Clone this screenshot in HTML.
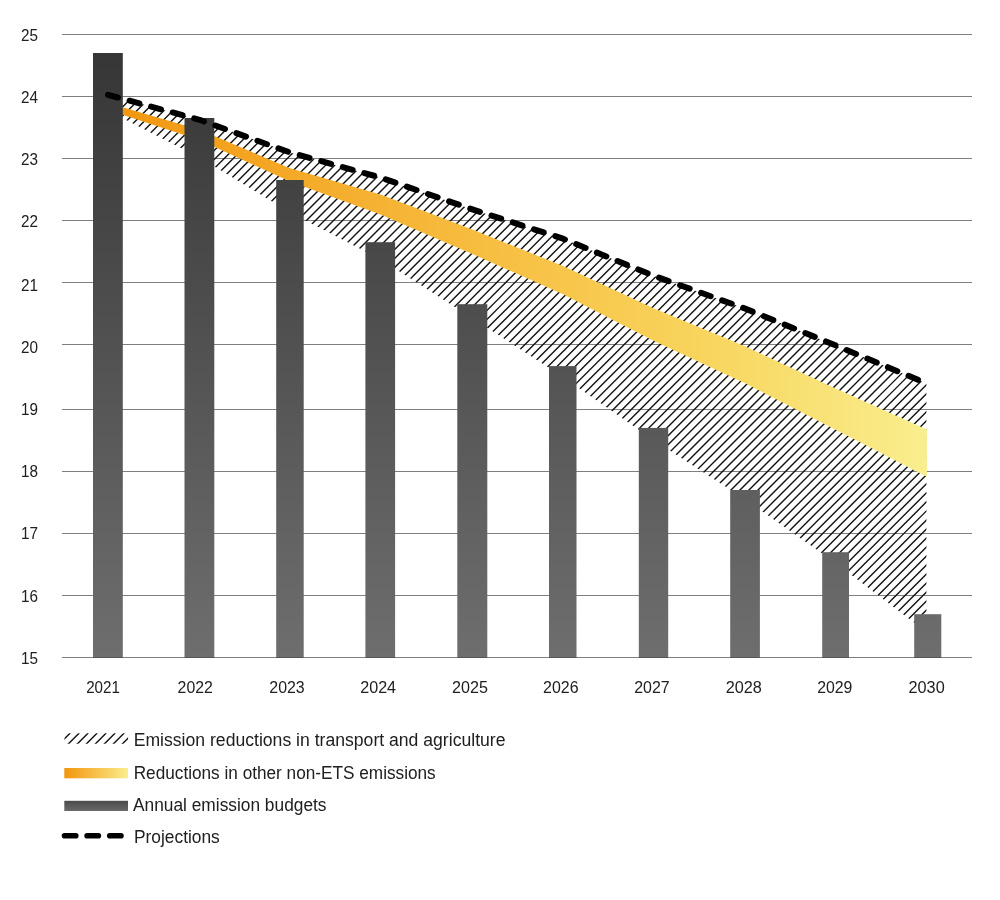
<!DOCTYPE html><html><head><meta charset="utf-8"><style>html,body{margin:0;padding:0;background:#fff;}svg{display:block;}</style></head><body>
<svg width="1000" height="900" viewBox="0 0 1000 900">
<defs>
<linearGradient id="gBar" gradientUnits="userSpaceOnUse" x1="0" y1="53" x2="0" y2="657"><stop offset="0" stop-color="#363636"/><stop offset="1" stop-color="#6e6e6e"/></linearGradient>
<linearGradient id="gBand" gradientUnits="userSpaceOnUse" x1="108" y1="0" x2="926.4" y2="0"><stop offset="0" stop-color="#f2960f"/><stop offset="0.5" stop-color="#f7c145"/><stop offset="0.72" stop-color="#f8d45c"/><stop offset="1" stop-color="#f9ee8e"/></linearGradient>
<linearGradient id="gLegBand" x1="0" y1="0" x2="1" y2="0"><stop offset="0" stop-color="#f2960f"/><stop offset="0.5" stop-color="#f7c04a"/><stop offset="1" stop-color="#f9ee8e"/></linearGradient>
<linearGradient id="gLegBar" x1="0" y1="0" x2="0" y2="1"><stop offset="0" stop-color="#4a4a4a"/><stop offset="1" stop-color="#6a6a6a"/></linearGradient>
<clipPath id="cHatch"><polygon points="108.00,94.80 199.50,119.80 290.00,152.50 380.50,177.50 472.40,209.40 563.00,238.70 653.50,275.70 745.00,308.50 835.70,345.40 926.40,383.30 926.40,632.00 835.70,563.00 745.00,499.30 653.50,440.00 563.00,377.00 472.40,318.20 380.50,259.30 290.00,212.40 199.50,157.60 108.00,110.70"/></clipPath>
<clipPath id="cLeg"><rect x="64.5" y="733.3" width="63.6" height="10.5"/></clipPath>
</defs>
<rect x="62" y="34" width="910" height="1" fill="#7f7f7f"/>
<rect x="62" y="96" width="910" height="1" fill="#7f7f7f"/>
<rect x="62" y="158" width="910" height="1" fill="#7f7f7f"/>
<rect x="62" y="220" width="910" height="1" fill="#7f7f7f"/>
<rect x="62" y="282" width="910" height="1" fill="#7f7f7f"/>
<rect x="62" y="344" width="910" height="1" fill="#7f7f7f"/>
<rect x="62" y="409" width="910" height="1" fill="#7f7f7f"/>
<rect x="62" y="471" width="910" height="1" fill="#7f7f7f"/>
<rect x="62" y="533" width="910" height="1" fill="#7f7f7f"/>
<rect x="62" y="595" width="910" height="1" fill="#7f7f7f"/>
<rect x="62" y="657" width="910" height="1" fill="#7f7f7f"/>
<g clip-path="url(#cHatch)" stroke="#111" stroke-width="1.4">
<line x1="100" y1="84.4006" x2="935" y2="-750.5994000000001"/>
<line x1="100" y1="93.41480000000001" x2="935" y2="-741.5852"/>
<line x1="100" y1="102.429" x2="935" y2="-732.571"/>
<line x1="100" y1="111.44319999999999" x2="935" y2="-723.5568000000001"/>
<line x1="100" y1="120.4574" x2="935" y2="-714.5426"/>
<line x1="100" y1="129.4716" x2="935" y2="-705.5284"/>
<line x1="100" y1="138.4858" x2="935" y2="-696.5142"/>
<line x1="100" y1="147.5" x2="935" y2="-687.5"/>
<line x1="100" y1="156.51420000000002" x2="935" y2="-678.4857999999999"/>
<line x1="100" y1="165.52839999999998" x2="935" y2="-669.4716000000001"/>
<line x1="100" y1="174.5426" x2="935" y2="-660.4574"/>
<line x1="100" y1="183.5568" x2="935" y2="-651.4431999999999"/>
<line x1="100" y1="192.57100000000003" x2="935" y2="-642.429"/>
<line x1="100" y1="201.5852" x2="935" y2="-633.4148"/>
<line x1="100" y1="210.5994" x2="935" y2="-624.4005999999999"/>
<line x1="100" y1="219.61360000000002" x2="935" y2="-615.3864"/>
<line x1="100" y1="228.62779999999998" x2="935" y2="-606.3722"/>
<line x1="100" y1="237.642" x2="935" y2="-597.358"/>
<line x1="100" y1="246.6562" x2="935" y2="-588.3438"/>
<line x1="100" y1="255.67039999999997" x2="935" y2="-579.3296"/>
<line x1="100" y1="264.6846" x2="935" y2="-570.3154"/>
<line x1="100" y1="273.6988" x2="935" y2="-561.3012"/>
<line x1="100" y1="282.713" x2="935" y2="-552.287"/>
<line x1="100" y1="291.72720000000004" x2="935" y2="-543.2728"/>
<line x1="100" y1="300.7414" x2="935" y2="-534.2586"/>
<line x1="100" y1="309.7556" x2="935" y2="-525.2444"/>
<line x1="100" y1="318.76980000000003" x2="935" y2="-516.2302"/>
<line x1="100" y1="327.784" x2="935" y2="-507.216"/>
<line x1="100" y1="336.7982" x2="935" y2="-498.2018"/>
<line x1="100" y1="345.8124" x2="935" y2="-489.1876"/>
<line x1="100" y1="354.8266" x2="935" y2="-480.1734"/>
<line x1="100" y1="363.8408" x2="935" y2="-471.1592"/>
<line x1="100" y1="372.855" x2="935" y2="-462.145"/>
<line x1="100" y1="381.8692" x2="935" y2="-453.1308"/>
<line x1="100" y1="390.88340000000005" x2="935" y2="-444.11659999999995"/>
<line x1="100" y1="399.8976" x2="935" y2="-435.1024"/>
<line x1="100" y1="408.9118" x2="935" y2="-426.0882"/>
<line x1="100" y1="417.92600000000004" x2="935" y2="-417.07399999999996"/>
<line x1="100" y1="426.9402" x2="935" y2="-408.0598"/>
<line x1="100" y1="435.9544000000001" x2="935" y2="-399.0455999999999"/>
<line x1="100" y1="444.96860000000004" x2="935" y2="-390.03139999999996"/>
<line x1="100" y1="453.9828" x2="935" y2="-381.0172"/>
<line x1="100" y1="462.99700000000007" x2="935" y2="-372.00299999999993"/>
<line x1="100" y1="472.01120000000003" x2="935" y2="-362.98879999999997"/>
<line x1="100" y1="481.0254" x2="935" y2="-353.9746"/>
<line x1="100" y1="490.03960000000006" x2="935" y2="-344.96039999999994"/>
<line x1="100" y1="499.0538" x2="935" y2="-335.9462"/>
<line x1="100" y1="508.068" x2="935" y2="-326.932"/>
<line x1="100" y1="517.0822000000001" x2="935" y2="-317.91779999999994"/>
<line x1="100" y1="526.0964" x2="935" y2="-308.9036"/>
<line x1="100" y1="535.1106" x2="935" y2="-299.8894"/>
<line x1="100" y1="544.1248" x2="935" y2="-290.87519999999995"/>
<line x1="100" y1="553.139" x2="935" y2="-281.861"/>
<line x1="100" y1="562.1532" x2="935" y2="-272.84680000000003"/>
<line x1="100" y1="571.1674" x2="935" y2="-263.83259999999996"/>
<line x1="100" y1="580.1816" x2="935" y2="-254.8184"/>
<line x1="100" y1="589.1958" x2="935" y2="-245.80420000000004"/>
<line x1="100" y1="598.21" x2="935" y2="-236.78999999999996"/>
<line x1="100" y1="607.2242000000001" x2="935" y2="-227.7757999999999"/>
<line x1="100" y1="616.2384" x2="935" y2="-218.76160000000004"/>
<line x1="100" y1="625.2526" x2="935" y2="-209.74739999999997"/>
<line x1="100" y1="634.2668000000001" x2="935" y2="-200.7331999999999"/>
<line x1="100" y1="643.2810000000001" x2="935" y2="-191.71899999999994"/>
<line x1="100" y1="652.2952" x2="935" y2="-182.70479999999998"/>
<line x1="100" y1="661.3094" x2="935" y2="-173.69060000000002"/>
<line x1="100" y1="670.3236" x2="935" y2="-164.67639999999994"/>
<line x1="100" y1="679.3378" x2="935" y2="-155.66219999999998"/>
<line x1="100" y1="688.3520000000001" x2="935" y2="-146.6479999999999"/>
<line x1="100" y1="697.3662" x2="935" y2="-137.63379999999995"/>
<line x1="100" y1="706.3804" x2="935" y2="-128.6196"/>
<line x1="100" y1="715.3946000000001" x2="935" y2="-119.60539999999992"/>
<line x1="100" y1="724.4088" x2="935" y2="-110.59119999999996"/>
<line x1="100" y1="733.423" x2="935" y2="-101.577"/>
<line x1="100" y1="742.4372000000001" x2="935" y2="-92.56279999999992"/>
<line x1="100" y1="751.4514" x2="935" y2="-83.54859999999996"/>
<line x1="100" y1="760.4656" x2="935" y2="-74.5344"/>
<line x1="100" y1="769.4798000000001" x2="935" y2="-65.52019999999993"/>
<line x1="100" y1="778.494" x2="935" y2="-56.50599999999997"/>
<line x1="100" y1="787.5082000000001" x2="935" y2="-47.4917999999999"/>
<line x1="100" y1="796.5224000000001" x2="935" y2="-38.47759999999994"/>
<line x1="100" y1="805.5366" x2="935" y2="-29.46339999999998"/>
<line x1="100" y1="814.5508000000001" x2="935" y2="-20.449199999999905"/>
<line x1="100" y1="823.565" x2="935" y2="-11.434999999999945"/>
<line x1="100" y1="832.5792" x2="935" y2="-2.4207999999999856"/>
<line x1="100" y1="841.5934000000001" x2="935" y2="6.593400000000088"/>
<line x1="100" y1="850.6076" x2="935" y2="15.607600000000048"/>
<line x1="100" y1="859.6218" x2="935" y2="24.621800000000007"/>
<line x1="100" y1="868.6360000000001" x2="935" y2="33.63600000000008"/>
<line x1="100" y1="877.6502" x2="935" y2="42.65020000000004"/>
<line x1="100" y1="886.6644" x2="935" y2="51.6644"/>
<line x1="100" y1="895.6786000000001" x2="935" y2="60.678600000000074"/>
<line x1="100" y1="904.6928" x2="935" y2="69.69280000000003"/>
<line x1="100" y1="913.7070000000001" x2="935" y2="78.70700000000011"/>
<line x1="100" y1="922.7212000000001" x2="935" y2="87.72120000000007"/>
<line x1="100" y1="931.7354" x2="935" y2="96.73540000000003"/>
<line x1="100" y1="940.7496000000001" x2="935" y2="105.7496000000001"/>
<line x1="100" y1="949.7638000000002" x2="935" y2="114.76380000000017"/>
<line x1="100" y1="958.778" x2="935" y2="123.77800000000002"/>
<line x1="100" y1="967.7922000000001" x2="935" y2="132.7922000000001"/>
<line x1="100" y1="976.8063999999999" x2="935" y2="141.80639999999994"/>
<line x1="100" y1="985.8206" x2="935" y2="150.8206"/>
<line x1="100" y1="994.8348000000001" x2="935" y2="159.8348000000001"/>
<line x1="100" y1="1003.8490000000002" x2="935" y2="168.84900000000016"/>
<line x1="100" y1="1012.8632" x2="935" y2="177.8632"/>
<line x1="100" y1="1021.8774000000001" x2="935" y2="186.87740000000008"/>
<line x1="100" y1="1030.8916" x2="935" y2="195.89159999999993"/>
<line x1="100" y1="1039.9058" x2="935" y2="204.9058"/>
<line x1="100" y1="1048.92" x2="935" y2="213.92000000000007"/>
<line x1="100" y1="1057.9342000000001" x2="935" y2="222.93420000000015"/>
<line x1="100" y1="1066.9484000000002" x2="935" y2="231.94840000000022"/>
<line x1="100" y1="1075.9626" x2="935" y2="240.96260000000007"/>
<line x1="100" y1="1084.9768" x2="935" y2="249.9767999999999"/>
<line x1="100" y1="1093.991" x2="935" y2="258.991"/>
<line x1="100" y1="1103.0052" x2="935" y2="268.00520000000006"/>
<line x1="100" y1="1112.0194000000001" x2="935" y2="277.01940000000013"/>
<line x1="100" y1="1121.0336000000002" x2="935" y2="286.0336000000002"/>
<line x1="100" y1="1130.0478" x2="935" y2="295.04780000000005"/>
<line x1="100" y1="1139.0620000000001" x2="935" y2="304.0620000000001"/>
<line x1="100" y1="1148.0762" x2="935" y2="313.0762"/>
<line x1="100" y1="1157.0904" x2="935" y2="322.09040000000005"/>
<line x1="100" y1="1166.1046000000001" x2="935" y2="331.1046000000001"/>
<line x1="100" y1="1175.1188" x2="935" y2="340.11879999999996"/>
<line x1="100" y1="1184.133" x2="935" y2="349.13300000000004"/>
<line x1="100" y1="1193.1472" x2="935" y2="358.1472000000001"/>
<line x1="100" y1="1202.1614000000002" x2="935" y2="367.1614000000002"/>
<line x1="100" y1="1211.1756" x2="935" y2="376.17560000000003"/>
<line x1="100" y1="1220.1898" x2="935" y2="385.1898000000001"/>
<line x1="100" y1="1229.2040000000002" x2="935" y2="394.2040000000002"/>
<line x1="100" y1="1238.2182" x2="935" y2="403.2182"/>
<line x1="100" y1="1247.2324" x2="935" y2="412.2324000000001"/>
<line x1="100" y1="1256.2466000000002" x2="935" y2="421.24660000000017"/>
<line x1="100" y1="1265.2608" x2="935" y2="430.2608"/>
<line x1="100" y1="1274.275" x2="935" y2="439.2750000000001"/>
<line x1="100" y1="1283.2892000000002" x2="935" y2="448.28920000000016"/>
<line x1="100" y1="1292.3034" x2="935" y2="457.3034"/>
<line x1="100" y1="1301.3176" x2="935" y2="466.3176000000001"/>
<line x1="100" y1="1310.3318000000002" x2="935" y2="475.33180000000016"/>
<line x1="100" y1="1319.346" x2="935" y2="484.346"/>
<line x1="100" y1="1328.3602" x2="935" y2="493.3602000000001"/>
<line x1="100" y1="1337.3744000000002" x2="935" y2="502.37440000000015"/>
<line x1="100" y1="1346.3886" x2="935" y2="511.3886"/>
<line x1="100" y1="1355.4028" x2="935" y2="520.4028000000001"/>
<line x1="100" y1="1364.4170000000001" x2="935" y2="529.4170000000001"/>
<line x1="100" y1="1373.4312" x2="935" y2="538.4312"/>
<line x1="100" y1="1382.4454" x2="935" y2="547.4454000000001"/>
<line x1="100" y1="1391.4596000000001" x2="935" y2="556.4596000000001"/>
<line x1="100" y1="1400.4738" x2="935" y2="565.4738"/>
<line x1="100" y1="1409.488" x2="935" y2="574.488"/>
<line x1="100" y1="1418.5022000000001" x2="935" y2="583.5022000000001"/>
<line x1="100" y1="1427.5164000000002" x2="935" y2="592.5164000000002"/>
<line x1="100" y1="1436.5306" x2="935" y2="601.5306"/>
<line x1="100" y1="1445.5448000000001" x2="935" y2="610.5448000000001"/>
<line x1="100" y1="1454.5590000000002" x2="935" y2="619.5590000000002"/>
<line x1="100" y1="1463.5732" x2="935" y2="628.5732"/>
<line x1="100" y1="1472.5874000000001" x2="935" y2="637.5874000000001"/>
</g>
<polygon points="108.00,103.00 199.50,129.80 290.00,168.20 380.50,194.50 472.40,229.50 563.00,266.00 653.50,308.20 745.00,346.30 835.70,388.50 926.90,429.40 926.90,476.70 835.70,429.80 745.00,383.30 653.50,340.70 563.00,294.20 472.40,254.00 380.50,214.50 290.00,181.50 199.50,140.00 108.00,109.90" fill="url(#gBand)"/>
<rect x="93" y="53" width="29.80" height="604.50" fill="url(#gBar)"/>
<rect x="184.5" y="118" width="29.80" height="539.50" fill="url(#gBar)"/>
<rect x="276.2" y="180" width="27.50" height="477.50" fill="url(#gBar)"/>
<rect x="365.4" y="242.2" width="29.70" height="415.30" fill="url(#gBar)"/>
<rect x="457.3" y="304.2" width="30.00" height="353.30" fill="url(#gBar)"/>
<rect x="549" y="366.1" width="27.50" height="291.40" fill="url(#gBar)"/>
<rect x="638.8" y="427.9" width="29.40" height="229.60" fill="url(#gBar)"/>
<rect x="730.2" y="490" width="29.70" height="167.50" fill="url(#gBar)"/>
<rect x="822.2" y="552.2" width="26.80" height="105.30" fill="url(#gBar)"/>
<rect x="914.2" y="614.2" width="27.10" height="43.30" fill="url(#gBar)"/>
<rect x="93" y="657" width="29.80" height="1" fill="#575757"/>
<rect x="184.5" y="657" width="29.80" height="1" fill="#575757"/>
<rect x="276.2" y="657" width="27.50" height="1" fill="#575757"/>
<rect x="365.4" y="657" width="29.70" height="1" fill="#575757"/>
<rect x="457.3" y="657" width="30.00" height="1" fill="#575757"/>
<rect x="549" y="657" width="27.50" height="1" fill="#575757"/>
<rect x="638.8" y="657" width="29.40" height="1" fill="#575757"/>
<rect x="730.2" y="657" width="29.70" height="1" fill="#575757"/>
<rect x="822.2" y="657" width="26.80" height="1" fill="#575757"/>
<rect x="914.2" y="657" width="27.10" height="1" fill="#575757"/>
<polyline points="108.00,94.80 199.50,119.80 290.00,152.50 380.50,177.50 472.40,209.40 563.00,238.70 653.50,275.70 745.00,308.50 835.70,345.40 926.40,383.30" fill="none" stroke="#000" stroke-width="6" stroke-linecap="round" stroke-linejoin="round" stroke-dasharray="10.2 12.15"/>
<g opacity="0.999">
<text x="21" y="40.70" font-family='"Liberation Sans", sans-serif' font-size="17.2" fill="#202020" textLength="17" lengthAdjust="spacingAndGlyphs">25</text>
<text x="21" y="103.45" font-family='"Liberation Sans", sans-serif' font-size="17.2" fill="#202020" textLength="17" lengthAdjust="spacingAndGlyphs">24</text>
<text x="21" y="165.45" font-family='"Liberation Sans", sans-serif' font-size="17.2" fill="#202020" textLength="17" lengthAdjust="spacingAndGlyphs">23</text>
<text x="21" y="227.45" font-family='"Liberation Sans", sans-serif' font-size="17.2" fill="#202020" textLength="17" lengthAdjust="spacingAndGlyphs">22</text>
<text x="21" y="291.20" font-family='"Liberation Sans", sans-serif' font-size="17.2" fill="#202020" textLength="17" lengthAdjust="spacingAndGlyphs">21</text>
<text x="21" y="353.20" font-family='"Liberation Sans", sans-serif' font-size="17.2" fill="#202020" textLength="17" lengthAdjust="spacingAndGlyphs">20</text>
<text x="21" y="415.45" font-family='"Liberation Sans", sans-serif' font-size="17.2" fill="#202020" textLength="17" lengthAdjust="spacingAndGlyphs">19</text>
<text x="21" y="477.45" font-family='"Liberation Sans", sans-serif' font-size="17.2" fill="#202020" textLength="17" lengthAdjust="spacingAndGlyphs">18</text>
<text x="21" y="539.45" font-family='"Liberation Sans", sans-serif' font-size="17.2" fill="#202020" textLength="17" lengthAdjust="spacingAndGlyphs">17</text>
<text x="21" y="601.70" font-family='"Liberation Sans", sans-serif' font-size="17.2" fill="#202020" textLength="17" lengthAdjust="spacingAndGlyphs">16</text>
<text x="21" y="663.70" font-family='"Liberation Sans", sans-serif' font-size="17.2" fill="#202020" textLength="17" lengthAdjust="spacingAndGlyphs">15</text>
<text x="86.20" y="693.1" font-family='"Liberation Sans", sans-serif' font-size="17.3" fill="#202020" textLength="33.70" lengthAdjust="spacingAndGlyphs">2021</text>
<text x="177.60" y="693.1" font-family='"Liberation Sans", sans-serif' font-size="17.3" fill="#202020" textLength="35.20" lengthAdjust="spacingAndGlyphs">2022</text>
<text x="269.30" y="693.1" font-family='"Liberation Sans", sans-serif' font-size="17.3" fill="#202020" textLength="35.40" lengthAdjust="spacingAndGlyphs">2023</text>
<text x="360.20" y="693.1" font-family='"Liberation Sans", sans-serif' font-size="17.3" fill="#202020" textLength="35.90" lengthAdjust="spacingAndGlyphs">2024</text>
<text x="452.00" y="693.1" font-family='"Liberation Sans", sans-serif' font-size="17.3" fill="#202020" textLength="35.90" lengthAdjust="spacingAndGlyphs">2025</text>
<text x="543.10" y="693.1" font-family='"Liberation Sans", sans-serif' font-size="17.3" fill="#202020" textLength="35.50" lengthAdjust="spacingAndGlyphs">2026</text>
<text x="634.20" y="693.1" font-family='"Liberation Sans", sans-serif' font-size="17.3" fill="#202020" textLength="35.50" lengthAdjust="spacingAndGlyphs">2027</text>
<text x="725.70" y="693.1" font-family='"Liberation Sans", sans-serif' font-size="17.3" fill="#202020" textLength="36.20" lengthAdjust="spacingAndGlyphs">2028</text>
<text x="817.20" y="693.1" font-family='"Liberation Sans", sans-serif' font-size="17.3" fill="#202020" textLength="35.20" lengthAdjust="spacingAndGlyphs">2029</text>
<text x="908.50" y="693.1" font-family='"Liberation Sans", sans-serif' font-size="17.3" fill="#202020" textLength="36.20" lengthAdjust="spacingAndGlyphs">2030</text>
<g clip-path="url(#cLeg)" stroke="#111" stroke-width="1.4">
<line x1="49.25" y1="745" x2="61.25" y2="733"/>
<line x1="58.25" y1="745" x2="70.25" y2="733"/>
<line x1="67.25" y1="745" x2="79.25" y2="733"/>
<line x1="76.25" y1="745" x2="88.25" y2="733"/>
<line x1="85.25" y1="745" x2="97.25" y2="733"/>
<line x1="94.25" y1="745" x2="106.25" y2="733"/>
<line x1="103.25" y1="745" x2="115.25" y2="733"/>
<line x1="112.25" y1="745" x2="124.25" y2="733"/>
<line x1="121.25" y1="745" x2="133.25" y2="733"/>
<line x1="130.25" y1="745" x2="142.25" y2="733"/>
<line x1="139.25" y1="745" x2="151.25" y2="733"/>
<line x1="148.25" y1="745" x2="160.25" y2="733"/>
</g>
<rect x="64.3" y="768" width="63.7" height="10.3" fill="url(#gLegBand)"/>
<rect x="64.3" y="800.8" width="63.7" height="10.2" fill="url(#gLegBar)"/>
<line x1="64.5" y1="835.7" x2="124" y2="835.7" stroke="#000" stroke-width="5.6" stroke-linecap="round" stroke-dasharray="11.3 11.3"/>
<text x="133.70" y="745.8" font-family='"Liberation Sans", sans-serif' font-size="17.5" fill="#202020" textLength="371.80" lengthAdjust="spacingAndGlyphs">Emission reductions in transport and agriculture</text>
<text x="133.70" y="778.75" font-family='"Liberation Sans", sans-serif' font-size="17.5" fill="#202020" textLength="302.00" lengthAdjust="spacingAndGlyphs">Reductions in other non-ETS emissions</text>
<text x="133.00" y="811.4" font-family='"Liberation Sans", sans-serif' font-size="17.5" fill="#202020" textLength="193.50" lengthAdjust="spacingAndGlyphs">Annual emission budgets</text>
<text x="134.00" y="843.3" font-family='"Liberation Sans", sans-serif' font-size="17.5" fill="#202020" textLength="85.80" lengthAdjust="spacingAndGlyphs">Projections</text>
</g>
</svg></body></html>
